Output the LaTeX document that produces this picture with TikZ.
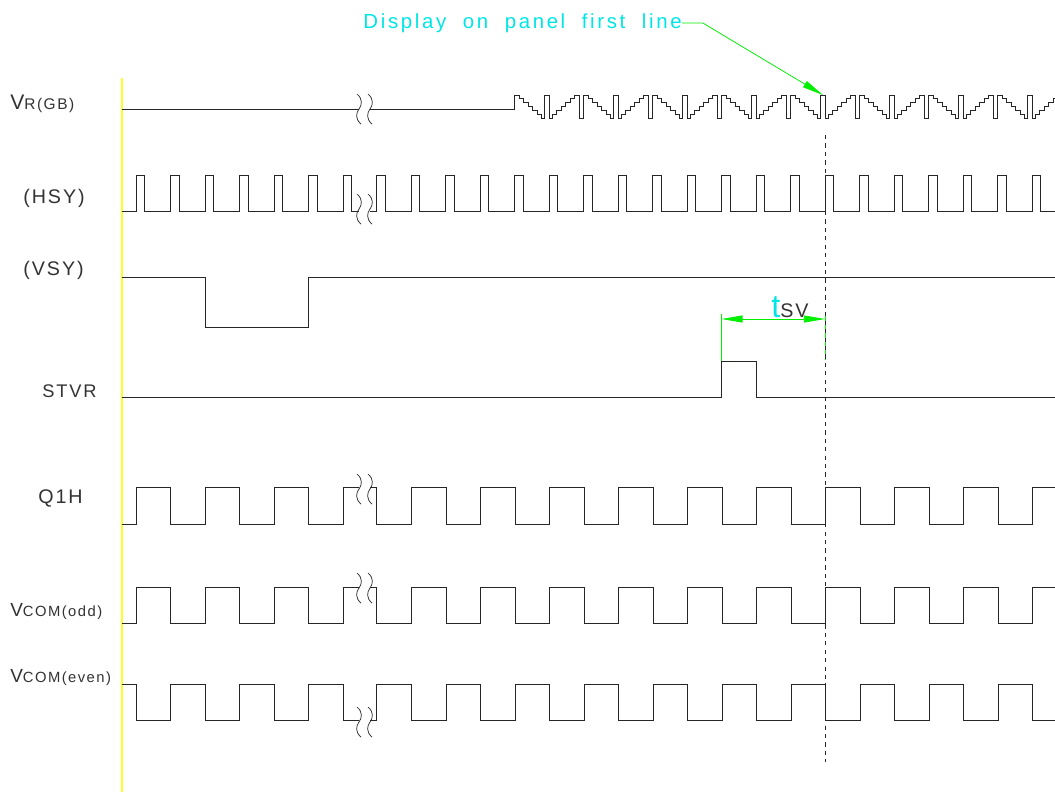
\documentclass[tikz,border=0pt]{standalone}
\usepackage{fontspec}
\setmainfont{Liberation Sans}
\newfontfamily\cadfont[LetterSpace=10]{Liberation Sans}
\newfontfamily\notefont[LetterSpace=13,WordSpace=2]{Liberation Sans}
\usepackage{tikz}
\usetikzlibrary{arrows.meta,positioning}
\definecolor{cadyellow}{RGB}{255,255,40}
\definecolor{cadcyan}{RGB}{0,230,230}
\definecolor{cadgreen}{RGB}{0,240,0}
\tikzset{
  wave/.style={line width=0.6pt, black!85},
  lbl/.style={inner sep=0pt, anchor=base west, text=black!80, font=\cadfont},
  dim/.style={cadgreen, line width=0.55pt},
  dimtip/.style={-{Triangle[length=15pt,width=5pt]}},
  breakmark/.pic={
    \draw[line width=0.5pt, black!85] (-2,-15) .. controls (4,-10) and (3,-4) .. (0,0) .. controls (-3,4) and (-4,10) .. (2,15);
    \draw[line width=0.5pt, black!85] (9,-15) .. controls (15,-10) and (14,-4) .. (11,0) .. controls (8,4) and (7,10) .. (13,15);
  }
}
\begin{document}
\begin{tikzpicture}[x=0.025cm,y=-0.025cm]
  \fill[white] (0,0) rectangle (1055,792);
  \useasboundingbox (0,0) rectangle (1055,792);

  % signal names
  \node[lbl] (vr) at (10,109) {{\fontsize{15}{15}\selectfont V}{\fontsize{11}{11}\selectfont R(GB)}};
  \node[lbl] (hsy) at (23,203) {\fontsize{14}{14}\selectfont (HSY)};
  \node[lbl] (vsy) at (23,275) {\fontsize{14}{14}\selectfont (VSY)};
  \node[lbl] (stvr) at (42,397) {\fontsize{13}{13}\selectfont STVR};
  \node[lbl] (q1h) at (38,503) {\fontsize{14}{14}\selectfont Q1H};
  \node[lbl] (vodd) at (10,616) {{\fontsize{13.5}{14}\selectfont V}{\fontsize{10.5}{10.5}\selectfont COM(odd)}};
  \node[lbl] (veven) at (10,682) {{\fontsize{13.5}{14}\selectfont V}{\fontsize{10.5}{10.5}\selectfont COM(even)}};

  \draw[cadyellow, line width=1.4pt] (122,78) -- (122,792);

  % VR(GB)
  \draw[wave] (122,109) -- (359,109);
  \begin{scope}
    \clip (0,0) rectangle (1055,792);
    \draw[wave] (370,109) -- (514.5,109) -- (514.5,95)
      \foreach \m in {0,...,7}{
        \foreach \j in {1,...,6}{ -- ++(4.5,0) -- ++(0,{23/6}) }
        -- ++(3,0) -- ++(0,-23) -- ++(4.5,0) -- ++(0,23) -- ++(3,0)
        \foreach \j in {1,...,6}{ -- ++(0,{-23/6}) -- ++(4.5,0) }
        -- ++(0,23) -- ++(4.5,0) -- ++(0,-23)
      };
  \end{scope}

  % HSY
  \draw[wave] (122,211)
    \foreach \k in {0,...,6}{ -- ({136+34.5*\k},211) -- ++(0,-36) -- ++(8.5,0) -- ++(0,36) }
    -- (359,211);
  \draw[wave] (370,211)
    \foreach \k in {0,...,19}{ -- ({376.5+34.5*\k},211) -- ++(0,-36) -- ++(8.5,0) -- ++(0,36) }
    -- (1055,211);

  % VSY
  \draw[wave] (122,277) -- (205,277) -- (205,327) -- (308,327) -- (308,277) -- (1055,277);

  % STVR
  \draw[wave] (122,397) -- (721.5,397) -- (721.5,361) -- (756,361) -- (756,397) -- (1055,397);

  % Q1H
  \draw[wave] (122,524)
    \foreach \k in {0,...,2}{ -- ({136+69*\k},524) -- ++(0,-37) -- ++(34.5,0) -- ++(0,37) }
    -- (343,524) -- (343,487) -- (359,487);
  \draw[wave] (370,487) -- (376.5,487) -- (376.5,524)
    \foreach \k in {0,...,8}{ -- ({411.5+69*\k},524) -- ++(0,-37) -- ++(34.5,0) -- ++(0,37) }
    -- (1032.5,524) -- (1032.5,487) -- (1055,487);

  % VCOM(odd)
  \draw[wave] (122,623)
    \foreach \k in {0,...,2}{ -- ({136+69*\k},623) -- ++(0,-36) -- ++(34.5,0) -- ++(0,36) }
    -- (343,623) -- (343,587) -- (359,587);
  \draw[wave] (370,587) -- (376.5,587) -- (376.5,623)
    \foreach \k in {0,...,8}{ -- ({411.5+69*\k},623) -- ++(0,-36) -- ++(34.5,0) -- ++(0,36) }
    -- (1032.5,623) -- (1032.5,587) -- (1055,587);

  % VCOM(even)
  \draw[wave] (122,684)
    \foreach \k in {0,...,2}{ -- ({136+69*\k},684) -- ++(0,36) -- ++(34.5,0) -- ++(0,-36) }
    -- (343,684) -- (343,720) -- (359,720);
  \draw[wave] (370,720) -- (376.5,720) -- (376.5,684)
    \foreach \k in {0,...,8}{ -- ({411.5+69*\k},684) -- ++(0,36) -- ++(34.5,0) -- ++(0,-36) }
    -- (1032.5,684) -- (1032.5,720) -- (1055,720);

  % breaks
  \pic at (359,109) {breakmark};
  \pic at (359,209) {breakmark};
  \pic at (359,489) {breakmark};
  \pic at (359,588) {breakmark};
  \pic at (359,722) {breakmark};

  % tsv
  \coordinate (s0) at (721.5,319);
  \coordinate (s1) at (825,319);
  \draw[dim] (721.5,314) -- (721.5,361);
  \draw[dim] (825,314) -- (825,360);
  \draw[dim, {Triangle[length=15pt,width=5pt]}-{Triangle[length=15pt,width=5pt]}] (s0) -- (s1);
  \node[inner sep=0pt, anchor=base west, font=\cadfont] (tsv) at (771,317)
    {{\color{cadcyan}\fontsize{23}{23}\selectfont t}{\color{black!80}\fontsize{14}{14}\selectfont SV}};

  % first line marker
  \coordinate (dtop) at (825,135);
  \coordinate (dbot) at (825,762);
  \draw[black!85, line width=0.5pt, dash pattern=on 3pt off 3pt] (dtop) -- (dbot);

  \node[inner sep=0pt, anchor=base east, text=cadcyan, font=\notefont\fontsize{14.5}{14.5}\selectfont] (disp) at (682,28)
    {Display on panel first line};
  \coordinate (fline) at (823,95);
  \draw[dim, dimtip] ([yshift=3.5pt]disp.base east) -- ++(21,0) -- (fline);
\end{tikzpicture}
\end{document}
